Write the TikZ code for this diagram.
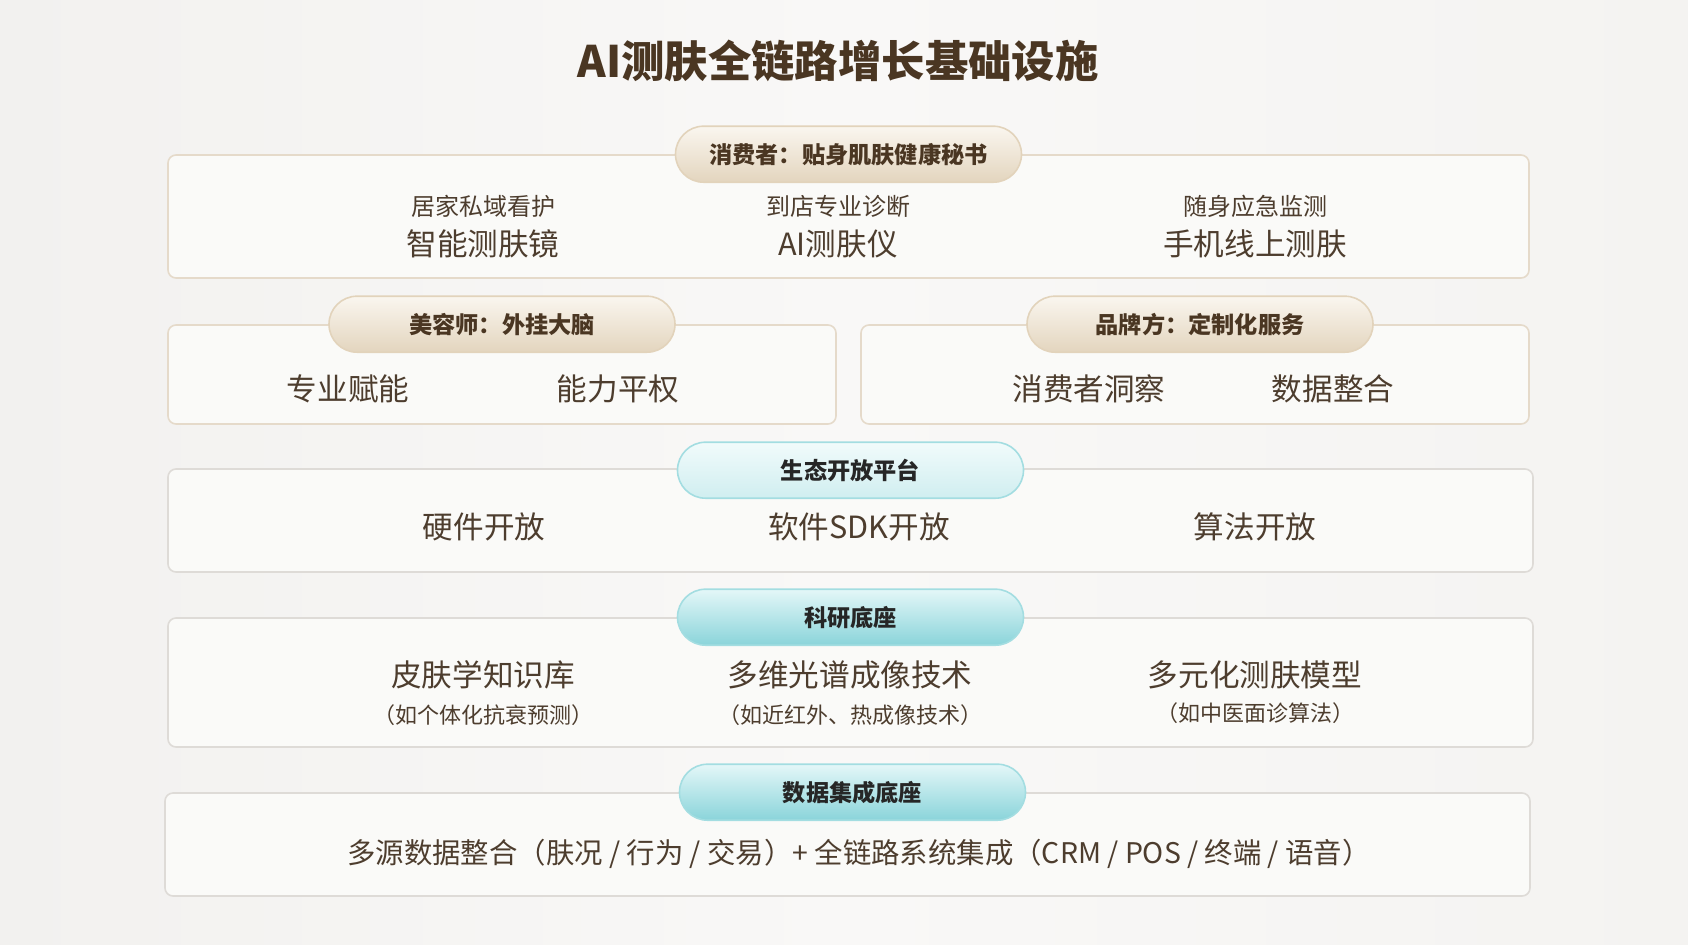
\documentclass[tikz,border=0pt]{standalone}
\usepackage{fontspec}
\newfontfamily\cjk{Noto Sans CJK SC}
\definecolor{bgleft}{HTML}{F2F1EF}
\definecolor{bgmid}{HTML}{F9F8F7}
\definecolor{bgright}{HTML}{F4F3F1}
\definecolor{boxfill}{HTML}{FAFAF8}
\definecolor{beigeline}{HTML}{E5DACA}
\definecolor{greyline}{HTML}{DEDBD7}
\definecolor{titlecol}{HTML}{4A3622}
\definecolor{textcol}{HTML}{4D3D2E}
\definecolor{goldtop}{HTML}{FAF6EF}
\definecolor{goldbot}{HTML}{E3D5BE}
\definecolor{goldline}{HTML}{E2D3BB}
\definecolor{aquatop}{HTML}{F1FBFB}
\definecolor{aquabot}{HTML}{D0EEF0}
\definecolor{tealtop}{HTML}{E4F7F8}
\definecolor{tealbot}{HTML}{8AD4DA}
\definecolor{tealline}{HTML}{A3DDE1}
\begin{document}
\begin{tikzpicture}[x=0.5pt,y=-0.5pt]
\tikzstyle{panel}=[rectangle, draw=beigeline, line width=0.8pt, fill=boxfill, rounded corners=4pt, inner sep=0pt]
\tikzstyle{pill}=[rectangle, draw=goldline, line width=0.8pt, top color=goldtop, bottom color=goldbot,
  rounded corners=14pt, minimum width=173pt, minimum height=28pt, text=titlecol,
  font=\cjk\bfseries\fontsize{11.6pt}{13pt}\selectfont]
\tikzstyle{aquapill}=[pill, draw=tealline, top color=aquatop, bottom color=aquabot, text=black!85]
\tikzstyle{tealpill}=[pill, draw=tealline, top color=tealtop, bottom color=tealbot, text=black!85]
\tikzstyle{big}=[text=textcol, inner sep=0pt, font=\cjk\fontsize{15.3pt}{18pt}\selectfont]
\tikzstyle{small}=[text=textcol, inner sep=0pt, font=\cjk\fontsize{12pt}{14pt}\selectfont]
\tikzstyle{note}=[text=textcol, inner sep=0pt, font=\cjk\fontsize{11pt}{13pt}\selectfont]

% background
\shade[left color=bgleft, right color=bgright, middle color=bgmid] (0,0) rectangle (1688,944);

\node[text=titlecol, font=\cjk\bfseries\fontsize{21.7pt}{26pt}\selectfont] (title) at (838,61) {AI测肤全链路增长基础设施};

% panels
\node[panel, minimum width=680.5pt, minimum height=61.5pt] (consumer) at (848.5,216.5) {};
\node[panel, minimum width=334pt, minimum height=49.5pt] (beautician) at (502,374.5) {};
\node[panel, minimum width=334pt, minimum height=49.5pt] (brand) at (1195,374.5) {};
\node[panel, draw=greyline, minimum width=682.5pt, minimum height=51.5pt] (eco) at (850.5,520.5) {};
\node[panel, draw=greyline, minimum width=682.5pt, minimum height=64.5pt] (research) at (850.5,682.5) {};
\node[panel, draw=greyline, minimum width=682.5pt, minimum height=51.5pt] (data) at (847.5,844.5) {};

% headers
\node[pill] (consumerhead) at (consumer.north) {消费者：贴身肌肤健康秘书};
\node[pill] (beauticianhead) at (beautician.north) {美容师：外挂大脑};
\node[pill] (brandhead) at ([xshift=2.5pt]brand.north) {品牌方：定制化服务};
\node[aquapill] (ecohead) at ([yshift=-1pt]eco.north) {生态开放平台};
\node[tealpill] (researchhead) at (research.north) {科研底座};
\node[tealpill] (datahead) at ([xshift=2.5pt]data.north) {数据集成底座};

% consumer
\node[small] (homecare) at (483,206) {居家私域看护};
\node[big]   (mirror)   at (483,244) {智能测肤镜};
\node[small] (store)    at (838,206) {到店专业诊断};
\node[big]   (device)   at (838,244) {AI测肤仪};
\node[small] (mobile)   at (1255,206) {随身应急监测};
\node[big]   (phone)    at (1255,244) {手机线上测肤};

% beautician / brand
\node[big] (expert)  at (348,389) {专业赋能};
\node[big] (equal)   at (618,389) {能力平权};
\node[big] (insight) at (1089,389) {消费者洞察};
\node[big] (merge)   at (1333,389) {数据整合};

% eco platform
\node[big] (hardware)  at (484,527) {硬件开放};
\node[big] (software)  at (859,527) {软件SDK开放};
\node[big] (algorithm) at (1255,527) {算法开放};

% research
\node[big]  (knowledge) at (483,675) {皮肤学知识库};
\node[note] (knownote)  at (483,715) {（如个体化抗衰预测）};
\node[big]  (spectral)  at (850,675) {多维光谱成像技术};
\node[note] (specnote)  at (850,715) {（如近红外、热成像技术）};
\node[big]  (model)     at (1255,675) {多元化测肤模型};
\node[note] (modelnote) at (1255,713) {（如中医面诊算法）};

% data
\node[big, font=\cjk\fontsize{14.2pt}{17pt}\selectfont] (integration) at (859,854)
  {多源数据整合（肤况 / 行为 / 交易）+ 全链路系统集成（CRM / POS / 终端 / 语音）};
\end{tikzpicture}
\end{document}
